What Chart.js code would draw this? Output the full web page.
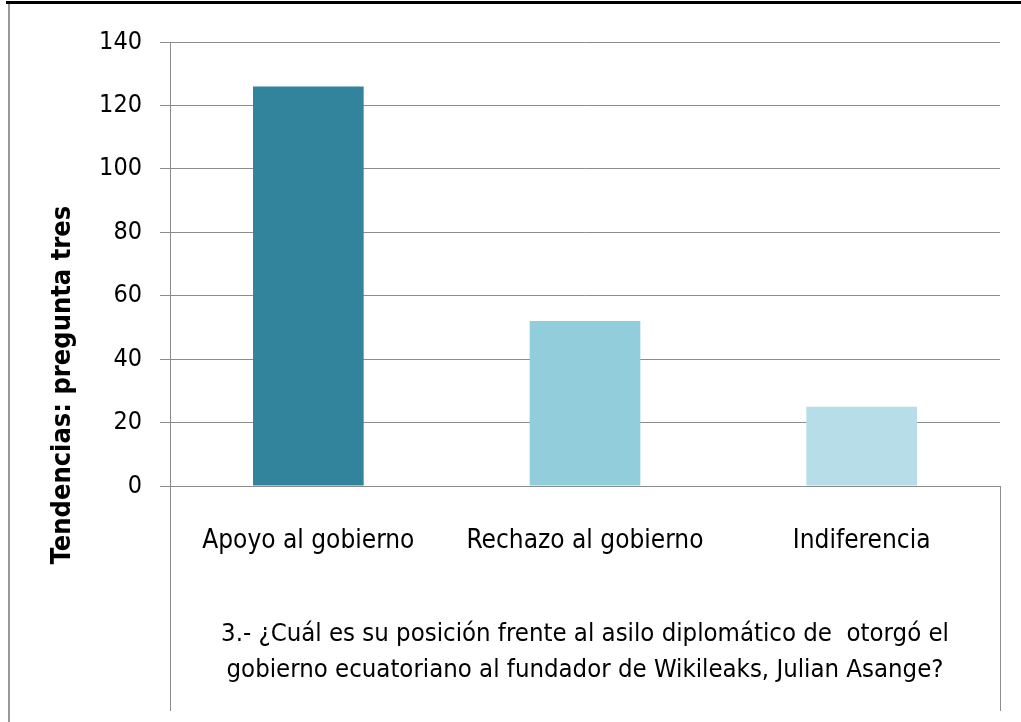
<!DOCTYPE html>
<html>
<head>
<meta charset="utf-8">
<style>
  html, body { margin: 0; padding: 0; background: #fff; }
  canvas { display: block; }
</style>
<script src="https://cdn.jsdelivr.net/npm/chart.js@4/dist/chart.umd.min.js"></script>
</head>
<body>
<canvas id="chart" width="1021" height="722"></canvas>
<script>
const categories = ['Apoyo al gobierno', 'Rechazo al gobierno', 'Indiferencia'];
const values = [126, 52, 25];
const barColors = ['#31849B', '#92CDDC', '#B7DEE8'];
const yTitle = 'Tendencias: pregunta tres';
const xTitle = [
	'3.- ¿Cuál es su posición frente al asilo diplomático de  otorgó el',
	'gobierno ecuatoriano al fundador de Wikileaks, Julian Asange?',
];

const FONT = '"DejaVu Sans Condensed", "Liberation Sans Narrow", "Liberation Sans", sans-serif';
const AXIS_GREY = '#8c8c8c';

// frame lines, axis extensions below the plot and the rotated y title
const framePlugin = {
	id: 'frame',
	beforeDraw(chart) {
		const ctx = chart.ctx;
		ctx.save();
		ctx.fillStyle = '#000';
		ctx.fillRect(6, 1, chart.width - 6, 3);
		ctx.fillStyle = '#999';
		ctx.fillRect(8, 4, 2, chart.height - 4);
		ctx.restore();
	},
	afterDraw(chart) {
		const ctx = chart.ctx;
		const area = chart.chartArea;
		ctx.save();
		ctx.strokeStyle = AXIS_GREY;
		ctx.lineWidth = 1;
		ctx.beginPath();
		ctx.moveTo(Math.round(area.left) + 0.5, area.bottom);
		ctx.lineTo(Math.round(area.left) + 0.5, 711);
		ctx.moveTo(Math.round(area.right) + 0.5, area.bottom);
		ctx.lineTo(Math.round(area.right) + 0.5, 711);
		ctx.stroke();

		ctx.translate(63, 385);
		ctx.rotate(-Math.PI / 2);
		ctx.fillStyle = '#000';
		ctx.font = 'bold 27px ' + FONT;
		ctx.textAlign = 'center';
		ctx.textBaseline = 'middle';
		ctx.fillText(yTitle, 0, 0);
		ctx.restore();
	},
};

new Chart(document.getElementById('chart'), {
	type: 'bar',
	data: {
		labels: categories,
		datasets: [
			{
				data: values,
				backgroundColor: barColors,
				borderWidth: 0,
				barPercentage: 0.8,
				categoryPercentage: 0.5,
			},
		],
	},
	options: {
		responsive: false,
		animation: false,
		devicePixelRatio: 1,
		layout: { padding: { top: 42, right: 21, left: 0, bottom: 0 } },
		plugins: {
			legend: { display: false },
			tooltip: { enabled: false },
		},
		scales: {
			x: {
				grid: { display: false, drawTicks: false },
				border: { display: true, color: AXIS_GREY, width: 1 },
				ticks: {
					color: '#000',
					padding: 40,
					maxRotation: 0,
					minRotation: 0,
					autoSkip: false,
					font: { family: FONT, size: 26 },
				},
				title: {
					display: true,
					text: xTitle,
					color: '#000',
					padding: { top: 0, bottom: 34 },
					font: { family: FONT, size: 25.5, lineHeight: 1.41 },
				},
				afterFit(scale) {
					scale.height = 236;
				},
			},
			y: {
				min: 0,
				max: 140,
				ticks: {
					stepSize: 20,
					color: '#000',
					padding: 18,
					font: { family: FONT, size: 25 },
				},
				grid: {
					color: AXIS_GREY,
					lineWidth: 1,
					drawTicks: true,
					tickLength: 10,
				},
				border: { display: true, color: AXIS_GREY, width: 1 },
				afterFit(scale) {
					scale.width = 170;
				},
			},
		},
	},
	plugins: [framePlugin],
});
</script>
</body>
</html>
